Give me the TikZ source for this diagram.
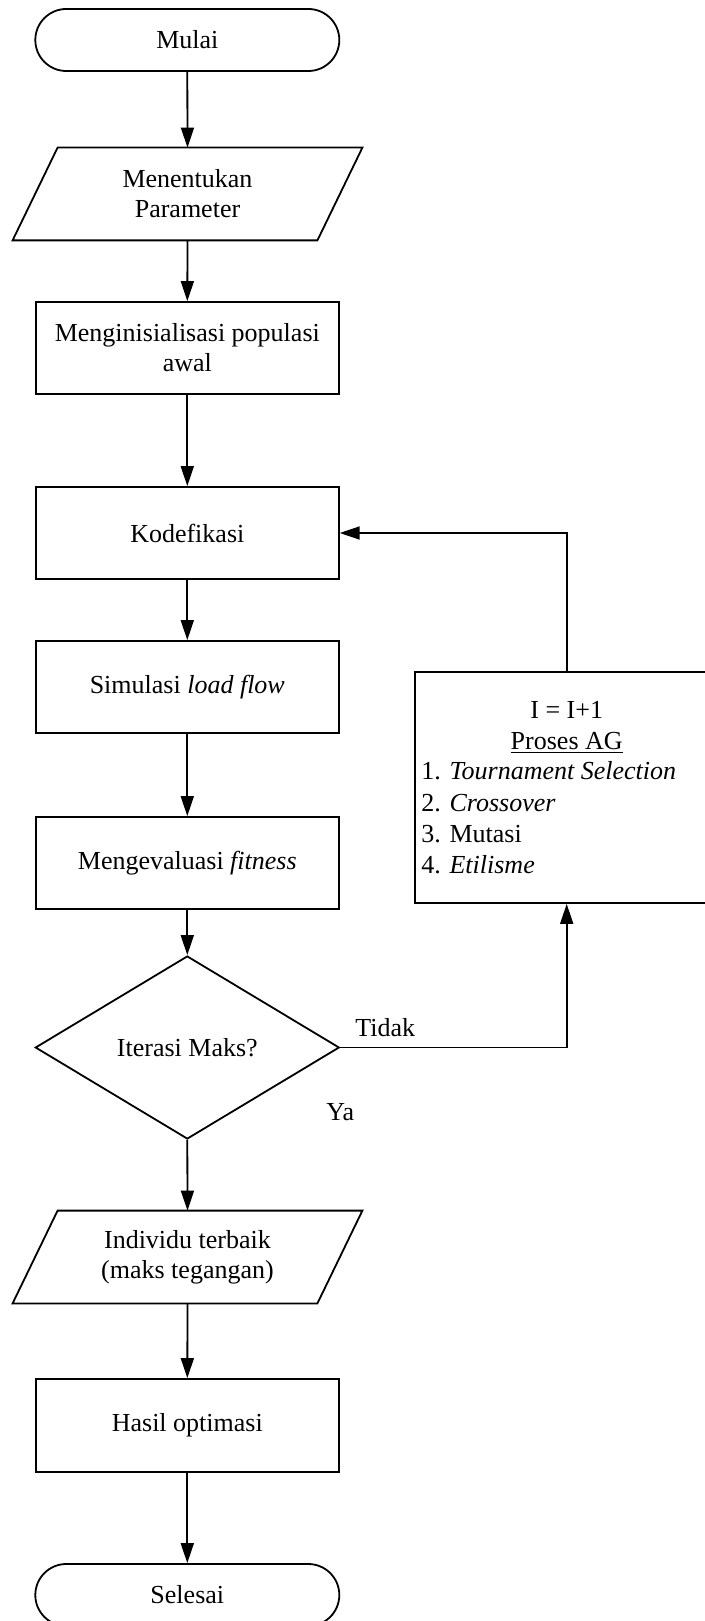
\documentclass[tikz,border=0pt]{standalone}
\usepackage{fontspec}
\setmainfont{Liberation Serif}
\usetikzlibrary{arrows.meta,shapes.geometric}
\begin{document}
\begin{tikzpicture}[x=0.5pt,y=-0.5pt,
  every node/.style={font=\fontsize{13}{15}\selectfont, inner sep=0pt},
  ln/.style={line width=0.9pt, draw=black},
  arr/.style={ln, -{Triangle[length=10pt,width=6.5pt]}},
  term/.style={ln, rectangle, rounded corners=15.5pt, minimum width=152pt, minimum height=31pt, align=center},
  proc/.style={ln, rectangle, minimum width=151.5pt, minimum height=46pt, align=center},
  iobox/.style={rectangle, minimum width=174.5pt, minimum height=46pt, align=center},
  decision/.style={ln, diamond, aspect=1.66, minimum width=152pt, minimum height=91.5pt, align=center},
  lbl/.style={anchor=base west}
]
\useasboundingbox (0,0) rectangle (705,1621);
\clip (0,0) rectangle (705,1621);

\node[term] (mulai) at (187.3,40) {Mulai};
\node[iobox] (par1) at (187.5,194) {Menentukan\\Parameter};
\draw[ln] ([xshift=22.5pt]par1.north west) -- (par1.north east) -- ([xshift=-22.5pt]par1.south east) -- (par1.south west) -- cycle;
\node[proc] (init) at (187.3,348) {Menginisialisasi populasi\\awal};
\node[proc] (kode) at (187.3,533) {Kodefikasi};
\node[proc] (sim) at (187.3,687) {Simulasi \textit{load flow}};
\node[proc] (eval) at (187.3,863) {Mengevaluasi \textit{fitness}};
\node[decision] (dec) at (187.3,1047.5) {Iterasi Maks?};
\node[iobox] (par2) at (187.5,1257) {Individu terbaik\\(maks tegangan)};
\draw[ln] ([xshift=22.5pt]par2.north west) -- (par2.north east) -- ([xshift=-22.5pt]par2.south east) -- (par2.south west) -- cycle;
\node[proc, minimum height=46.5pt] (hasil) at (187.3,1425.5) {Hasil optimasi};
\node[term] (selesai) at (187.3,1595) {Selesai};

\node[proc, minimum height=115.5pt] (ag) at (566.7,787.5) {};
\node[anchor=base] (ag1) at (566.7,718) {I = I+1};
\node[anchor=base] (ag2) at (566.7,749) {\underline{Proses AG}};
\node[lbl] (ag3) at (421,779) {1. \textit{Tournament Selection}};
\node[lbl] (ag4) at (421,811) {2. \textit{Crossover}};
\node[lbl] (ag5) at (421,842) {3. Mutasi};
\node[lbl] (ag6) at (421,873) {4. \textit{Etilisme}};

\node[lbl] (tidak) at (355,1036) {Tidak};
\node[lbl] (ya) at (326,1120) {Ya};

\draw[arr] (mulai.south) -- (par1.north);
\draw[arr] (par1.south) -- (init.north);
\draw[arr] (init.south) -- (kode.north);
\draw[arr] (kode.south) -- (sim.north);
\draw[arr] (sim.south) -- (eval.north);
\draw[arr] (eval.south) -- (dec.north);
\draw[arr] (dec.south) -- (par2.north);
\draw[arr] (par2.south) -- (hasil.north);
\draw[arr] (hasil.south) -- (selesai.north);
\draw[arr] (dec.east) -| (ag.south);
\draw[arr] (ag.north) |- (kode.east);
\end{tikzpicture}
\end{document}
